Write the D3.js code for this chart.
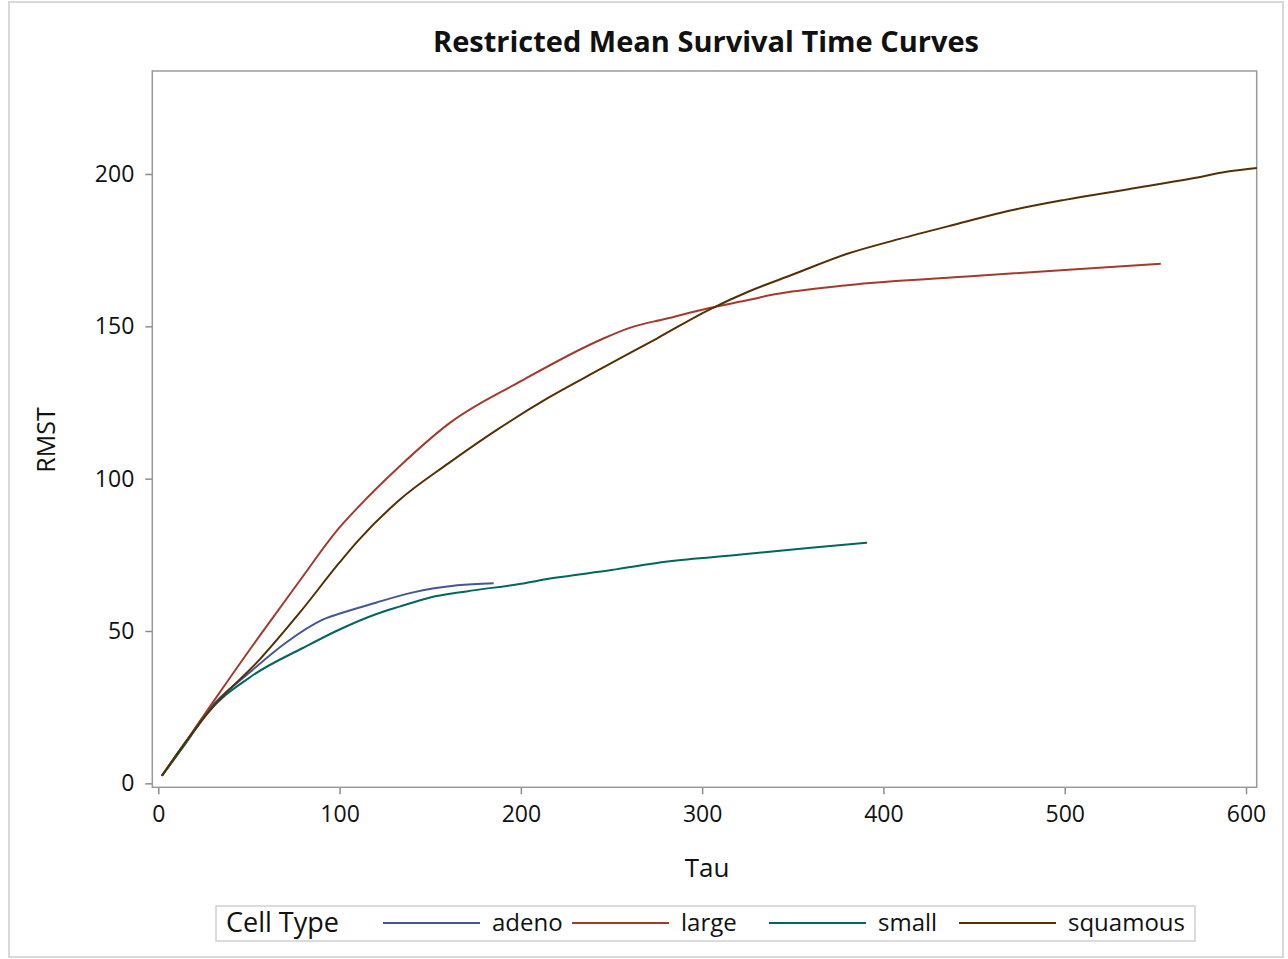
<!DOCTYPE html>
<html lang="en">
<head>
    <meta charset="UTF-8">
    <title>Restricted Mean Survival Time Curves</title>
    <script src="https://d3js.org/d3.v7.min.js"></script>
    <style>
        body { margin: 0; background: #fff; }
        text { font-family: "Open Sans", "DejaVu Sans", sans-serif; fill: #111; }
    </style>
</head>
<body>
    <svg width="1288" height="959"></svg>
    <script>
        // tau, RMST
        const adeno = [[2,2.5],[15,13.2],[27,23.5],[51,36.7],[70,46],[91,53.8],[106,56.8],[120,59.3],[140,62.6],[165,65],[185,65.7]];
        const large = [[2,2.5],[15,13.5],[30,26.5],[56,48.5],[78,66.5],[100,84],[110,90.5],[133,104],[161,118.4],[200,132],[244,145.6],[260,149.5],[280,152.5],[304,156],[326,158.7],[340,160.5],[380,163.5],[450,166.5],[500,168.5],[553,170.5]];
        const small = [[2,2.5],[15,13],[27,23],[51,35],[80,44.5],[100,50.5],[120,55.5],[133,58],[150,61],[170,63],[200,65.5],[216,67.2],[250,70],[281,72.8],[320,75],[360,77.3],[391,79]];
        const squamous = [[2,2.5],[15,13.5],[30,25],[56,40.7],[78,56],[100,72.5],[110,79.5],[133,93],[160,105],[188,116.5],[215,126.5],[244,136],[275,146],[304,155.5],[326,161.5],[350,167],[380,173.8],[409,178.7],[440,183.5],[470,188],[500,191.5],[535,195],[570,198.5],[590,200.8],[606,202]];

        const groups = ['adeno', 'large', 'small', 'squamous'];
        const seriesList = [adeno, large, small, squamous];
        const colors = ['#445694', '#A23A2E', '#01665E', '#543005'];
        const xTicks = [0, 100, 200, 300, 400, 500, 600];
        const yTicks = [0, 50, 100, 150, 200];

        const svg = d3.select('svg');

        // outer border
        svg.append('rect')
            .attr('x', 9).attr('y', 2).attr('width', 1274).attr('height', 955)
            .attr('fill', 'none').attr('stroke', '#d8d8d8').attr('stroke-width', 2);

        const xScale = d3.scaleLinear()
                        .domain([-3.3, 605.9])
                        .range([152.3, 1256.7]);
        const yScale = d3.scaleLinear()
                        .domain([-1.3, 233.8])
                        .range([787.3, 71]);

        const xAxis = d3.axisBottom(xScale).tickValues(xTicks).tickSize(7).tickPadding(11);
        const yAxis = d3.axisLeft(yScale).tickValues(yTicks).tickSize(7).tickPadding(11);

        const gx = svg.append('g').attr('transform', 'translate(0, 787.3)').call(xAxis);
        const gy = svg.append('g').attr('transform', 'translate(152.3, 0)').call(yAxis);
        [gx, gy].forEach(g => {
            g.select('.domain').remove();
            g.selectAll('line').attr('stroke', '#8c8c8c').attr('stroke-width', 1.5);
            g.selectAll('text').attr('font-size', 23).attr('fill', '#111')
                .attr('font-family', '"Open Sans", sans-serif');
        });

        // plot frame
        svg.append('rect')
            .attr('x', 152.3).attr('y', 71)
            .attr('width', 1256.7 - 152.3).attr('height', 787.3 - 71)
            .attr('fill', 'none').attr('stroke', '#9a9a9a').attr('stroke-width', 1.5);

        const line = d3.line()
                        .x(d => xScale(d[0]))
                        .y(d => yScale(d[1]))
                        .curve(d3.curveMonotoneX);

        svg.selectAll('.curve')
            .data(seriesList)
            .enter()
            .append('path')
            .attr('class', 'curve')
            .attr('d', d => line(d))
            .attr('fill', 'none')
            .attr('stroke', (d, i) => colors[i])
            .attr('stroke-width', 2);

        // title and axis labels
        svg.append('text')
            .attr('x', 706).attr('y', 52)
            .attr('text-anchor', 'middle')
            .attr('font-size', 29).attr('font-weight', 'bold')
            .text('Restricted Mean Survival Time Curves');

        svg.append('text')
            .attr('x', 707).attr('y', 877)
            .attr('text-anchor', 'middle')
            .attr('font-size', 26)
            .text('Tau');

        svg.append('text')
            .attr('transform', 'translate(55, 440) rotate(-90)')
            .attr('text-anchor', 'middle')
            .attr('font-size', 25)
            .text('RMST');

        // legend
        const legend = svg.append('g');
        legend.append('rect')
            .attr('x', 216).attr('y', 906).attr('width', 979).attr('height', 35)
            .attr('fill', 'none').attr('stroke', '#cfcfcf').attr('stroke-width', 1.5);
        legend.append('text')
            .attr('x', 226).attr('y', 932)
            .attr('font-size', 27)
            .text('Cell Type');

        const legendX = [383, 572, 769, 959];
        groups.forEach((g, i) => {
            legend.append('line')
                .attr('x1', legendX[i]).attr('x2', legendX[i] + 97)
                .attr('y1', 923).attr('y2', 923)
                .attr('stroke', colors[i]).attr('stroke-width', 2);
            legend.append('text')
                .attr('x', legendX[i] + 109).attr('y', 931)
                .attr('font-size', 24)
                .text(g);
        });
    </script>
</body>
</html>
